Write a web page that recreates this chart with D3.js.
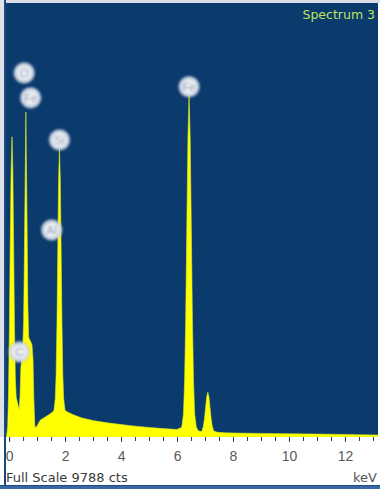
<!DOCTYPE html>
<html>
<head>
<meta charset="utf-8">
<script src="https://cdn.jsdelivr.net/npm/d3@7"></script>
<style>
html,body{margin:0;padding:0;background:#ffffff;}
svg{display:block;}
</style>
</head>
<body>
<svg id="chart" width="380" height="489"></svg>
<script>
// ---- data ----
const energy = [-0.14,-0.09,-0.05,-0.02,0.01,0.04,0.07,0.105,0.135,0.165,0.195,0.225,0.255,0.29,0.33,0.36,0.39,0.42,0.46,0.49,0.52,0.55,0.60,0.64,0.67,0.70,0.74,0.78,0.82,0.855,0.885,0.92,0.97,1.11,1.29,1.46,1.60,1.65,1.68,1.71,1.74,1.77,1.80,1.83,1.86,1.89,1.92,1.95,2.0,2.1,2.3,2.6,3.0,3.5,4.0,4.5,5.0,5.5,6.0,6.17,6.23,6.27,6.31,6.35,6.39,6.43,6.47,6.51,6.55,6.59,6.63,6.69,6.76,6.84,6.89,6.94,6.98,7.02,7.06,7.10,7.14,7.18,7.22,7.26,7.31,7.45,7.7,8.0,8.5,9.0,10.0,11.0,12.0,12.5,13.18];
const counts = [0,0,250,1000,2400,4300,5950,6770,6000,4200,2400,1300,900,800,700,620,900,1550,1800,2050,2600,4300,7330,5000,3000,2250,2190,2140,2070,1740,850,240,215,380,450,520,590,860,1400,2520,4190,5810,6520,5810,4190,2520,1400,860,600,560,500,430,370,320,280,245,215,190,170,220,520,1250,2650,4750,6750,7710,6750,4750,2650,1250,520,220,140,125,135,240,410,660,910,1010,910,660,410,240,135,105,95,90,85,80,72,65,58,50,45];

const elementNames = ["O","Fe","Si","Al","C","Fe"];
const labelEnergy  = [0.54, 0.77, 1.80, 1.52, 0.37, 6.43];
const labelCounts  = [8210, 7650, 6700, 4670, 1920, 7900];

const tickValues = [0,2,4,6,8,10,12];
const tickLabels = ["0","2","4","6","8","10","12"];
const fullScale = 9788;
const titleText = "Spectrum 3";
const footerText = "Full Scale 9788 cts";
const unitText = "keV";

// ---- layout ----
const svg = d3.select("#chart");
const W = 380, H = 489;
const plot = {left: 6, right: 378, top: 3, bottom: 437};

const x = d3.scaleLinear().domain([-0.11, 13.18]).range([plot.left, plot.right]);
const y = d3.scaleLinear().domain([0, fullScale]).range([plot.bottom, plot.top]);

// frame / backgrounds
svg.append("rect").attr("x",0).attr("y",0).attr("width",W).attr("height",H).attr("fill","#ffffff");
svg.append("rect").attr("x",0).attr("y",0).attr("width",W).attr("height",plot.top).attr("fill","#d9dee6");
svg.append("rect").attr("x",0).attr("y",0).attr("width",4).attr("height",plot.bottom).attr("fill","#dde2ea");
svg.append("rect").attr("x",plot.left).attr("y",plot.top)
   .attr("width",plot.right-plot.left).attr("height",plot.bottom-plot.top).attr("fill","#0b3a6d");
svg.append("rect").attr("x",4).attr("y",0).attr("width",2).attr("height",H).attr("fill","#1c4680");
svg.append("rect").attr("x",0).attr("y",485).attr("width",W).attr("height",4).attr("fill","#3a67a3");
svg.append("rect").attr("x",0).attr("y",485).attr("width",W).attr("height",1).attr("fill","#1f4a85");

const defs = svg.append("defs");
defs.append("clipPath").attr("id","clip").append("rect")
   .attr("x",plot.left).attr("y",plot.top).attr("width",plot.right-plot.left).attr("height",plot.bottom-plot.top);
const grad = defs.append("radialGradient").attr("id","lab");
grad.append("stop").attr("offset","0%").attr("stop-color","#f4f6fa");
grad.append("stop").attr("offset","60%").attr("stop-color","#e3e8f0");
grad.append("stop").attr("offset","85%").attr("stop-color","#c9d2e0").attr("stop-opacity",0.85);
grad.append("stop").attr("offset","100%").attr("stop-color","#9fb2cc").attr("stop-opacity",0);
const blur = defs.append("filter").attr("id","soft").attr("x","-50%").attr("y","-50%").attr("width","200%").attr("height","200%");
blur.append("feGaussianBlur").attr("stdDeviation",0.9);

// spectrum
const pts = energy.map((e,i)=>[e,counts[i]]);
const area = d3.area().x(d=>x(d[0])).y0(y(0)).y1(d=>y(d[1])).curve(d3.curveLinear);
svg.append("path").datum(pts).attr("clip-path","url(#clip)")
   .attr("d",area).attr("fill","#ffff00").attr("stroke","#d6ec2a").attr("stroke-width",0.6);

// axis: minor ticks every 0.5 keV
const minor = d3.range(0, 13.01, 0.5);
const axMinor = d3.axisBottom(x).tickValues(minor).tickSize(4).tickFormat("");
const gMinor = svg.append("g").attr("transform",`translate(0,${plot.bottom})`).call(axMinor);
gMinor.select(".domain").remove();
gMinor.selectAll("line").attr("stroke","#1d3f6e");

const axMajor = d3.axisBottom(x).tickValues(tickValues).tickSize(5).tickPadding(9)
   .tickFormat((d,i)=>tickLabels[i]);
const gMajor = svg.append("g").attr("transform",`translate(0,${plot.bottom})`).call(axMajor);
gMajor.select(".domain").remove();
gMajor.selectAll("line").attr("stroke","#1d3f6e");
gMajor.selectAll("text").attr("font-family","Liberation Sans, Arial, sans-serif")
   .attr("font-size",14).attr("fill","#5a5a5a");

// element labels
const lg = svg.append("g");
elementNames.forEach((n,i)=>{
  const cx = x(labelEnergy[i]), cy = y(labelCounts[i]);
  lg.append("circle").attr("cx",cx).attr("cy",cy).attr("r",11.5).attr("fill","url(#lab)").attr("filter","url(#soft)");
  lg.append("text").attr("x",cx).attr("y",cy+4).attr("text-anchor","middle")
    .attr("font-family","Liberation Sans, Arial, sans-serif").attr("font-size",11)
    .attr("fill","#98a3b5").attr("filter","url(#soft)").text(n);
});

// texts
svg.append("text").attr("x",375).attr("y",19).attr("text-anchor","end")
   .attr("font-family","DejaVu Sans, sans-serif").attr("font-size",12.5)
   .attr("fill","#bde35c").text(titleText);
svg.append("text").attr("x",6).attr("y",482)
   .attr("font-family","DejaVu Sans, sans-serif").attr("font-size",13)
   .attr("fill","#3a3a3a").text(footerText);
svg.append("text").attr("x",377).attr("y",482).attr("text-anchor","end")
   .attr("font-family","DejaVu Sans, sans-serif").attr("font-size",13)
   .attr("fill","#555555").text(unitText);
</script>
</body>
</html>
